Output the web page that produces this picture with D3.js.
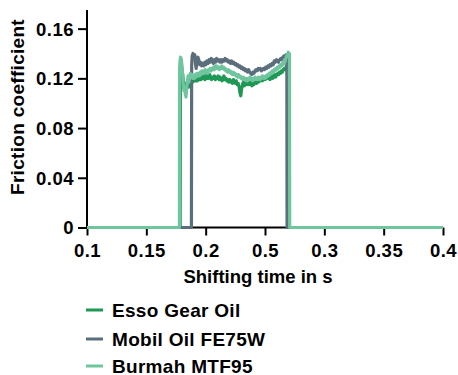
<!DOCTYPE html>
<html><head><meta charset="utf-8">
<script src="https://cdn.jsdelivr.net/npm/d3@7"></script>
<style>
html,body{margin:0;padding:0;background:#fff;}
svg{display:block;font-family:"Liberation Sans",Arial,Helvetica,sans-serif;font-weight:bold;}
</style></head><body>
<svg id="c" width="458" height="375"></svg>
<script>
const seriesNames = ["Esso Gear Oil", "Mobil Oil FE75W", "Burmah MTF95"];
const seriesColors = ["#1e9955", "#5b6e7c", "#6fc59e"];
const xTickValues = [0.1, 0.15, 0.2, 0.25, 0.3, 0.35, 0.4];
const xTickLabels = ["0.1", "0.15", "0.2", "0.5", "0.3", "0.35", "0.4"];
const yTickValues = [0, 0.04, 0.08, 0.12, 0.16];
const yTickLabels = ["0", "0.04", "0.08", "0.12", "0.16"];

// [shifting time in s, friction coefficient]
const essoData = [[0.1,0],[0.1785,0],[0.1787,0.128],[0.1795,0.131],[0.1805,0.124],[0.1812,0.118],[0.1819,0.114],[0.1826,0.116],[0.1834,0.111],[0.1842,0.115],[0.185,0.118],[0.1858,0.113],[0.1866,0.116],[0.1874,0.119],[0.1882,0.121],[0.189,0.117],[0.1898,0.118],[0.1906,0.121],[0.1914,0.118],[0.1922,0.12],[0.193,0.118],[0.1938,0.122],[0.1946,0.119],[0.1954,0.121],[0.1962,0.119],[0.197,0.122],[0.1978,0.12],[0.1986,0.122],[0.1994,0.119],[0.2002,0.123],[0.201,0.12],[0.2018,0.122],[0.2026,0.12],[0.2034,0.123],[0.2042,0.121],[0.205,0.119],[0.2058,0.121],[0.2066,0.12],[0.2074,0.122],[0.2082,0.119],[0.209,0.121],[0.2098,0.12],[0.2106,0.122],[0.2114,0.119],[0.2122,0.121],[0.213,0.12],[0.2138,0.118],[0.2146,0.12],[0.2154,0.122],[0.2162,0.119],[0.217,0.12],[0.2178,0.118],[0.2186,0.119],[0.2194,0.117],[0.2202,0.119],[0.221,0.117],[0.2218,0.118],[0.2226,0.116],[0.2234,0.119],[0.2242,0.117],[0.225,0.116],[0.2258,0.118],[0.2266,0.115],[0.2274,0.116],[0.2282,0.113],[0.229,0.108],[0.2296,0.106],[0.2302,0.111],[0.231,0.115],[0.2318,0.117],[0.2326,0.114],[0.2334,0.116],[0.2342,0.118],[0.235,0.115],[0.2358,0.117],[0.2366,0.115],[0.2374,0.117],[0.2382,0.116],[0.239,0.114],[0.2398,0.116],[0.2406,0.115],[0.2414,0.117],[0.2422,0.118],[0.243,0.116],[0.2438,0.118],[0.2446,0.117],[0.2454,0.119],[0.2462,0.118],[0.247,0.12],[0.2478,0.118],[0.2486,0.119],[0.2494,0.121],[0.2502,0.119],[0.251,0.12],[0.2518,0.122],[0.2526,0.12],[0.2534,0.121],[0.2542,0.119],[0.255,0.121],[0.2558,0.122],[0.2566,0.12],[0.2574,0.122],[0.2582,0.123],[0.259,0.121],[0.2598,0.123],[0.2606,0.124],[0.2614,0.123],[0.2622,0.125],[0.263,0.124],[0.2638,0.126],[0.2646,0.125],[0.2654,0.127],[0.2662,0.128],[0.267,0.127],[0.2678,0.129],[0.2686,0.13],[0.2694,0.129],[0.27,0.131],[0.2704,0.131],[0.2706,0],[0.4,0]];

const mobilData = [[0.1,0],[0.188,0],[0.1882,0.13],[0.1886,0.138],[0.1893,0.14],[0.19,0.137],[0.1908,0.139],[0.1915,0.131],[0.192,0.128],[0.1927,0.133],[0.1935,0.137],[0.1942,0.135],[0.195,0.131],[0.1958,0.133],[0.1966,0.13],[0.1975,0.132],[0.1984,0.13],[0.1993,0.133],[0.2002,0.131],[0.2011,0.134],[0.202,0.132],[0.2029,0.135],[0.2038,0.133],[0.2047,0.136],[0.2056,0.134],[0.2065,0.132],[0.2074,0.135],[0.2083,0.133],[0.2092,0.136],[0.2101,0.134],[0.211,0.135],[0.2119,0.133],[0.2128,0.135],[0.2137,0.133],[0.2146,0.135],[0.2155,0.134],[0.2164,0.136],[0.2173,0.134],[0.2182,0.135],[0.2191,0.133],[0.22,0.134],[0.2209,0.132],[0.2218,0.134],[0.2227,0.132],[0.2236,0.133],[0.2245,0.131],[0.2254,0.132],[0.2263,0.13],[0.2272,0.131],[0.2281,0.129],[0.229,0.13],[0.2299,0.128],[0.2308,0.129],[0.2317,0.127],[0.2326,0.128],[0.2335,0.126],[0.2344,0.127],[0.2353,0.125],[0.2362,0.127],[0.2371,0.125],[0.238,0.124],[0.2389,0.123],[0.2398,0.125],[0.2407,0.124],[0.2416,0.126],[0.2425,0.127],[0.2434,0.126],[0.2443,0.128],[0.2452,0.127],[0.2461,0.128],[0.247,0.126],[0.2479,0.127],[0.2488,0.128],[0.2497,0.127],[0.2506,0.129],[0.2515,0.128],[0.2524,0.13],[0.2533,0.129],[0.2542,0.131],[0.2551,0.13],[0.256,0.132],[0.2569,0.131],[0.2578,0.134],[0.2587,0.133],[0.2596,0.135],[0.2605,0.134],[0.2614,0.133],[0.2623,0.135],[0.2632,0.136],[0.2641,0.135],[0.265,0.137],[0.2659,0.138],[0.2668,0.137],[0.2677,0.139],[0.2684,0.139],[0.2686,0],[0.4,0]];

const burmahData = [[0.1,0],[0.1779,0],[0.178,0.128],[0.1784,0.134],[0.1788,0.137],[0.1793,0.136],[0.18,0.131],[0.1806,0.124],[0.1811,0.116],[0.1817,0.11],[0.1823,0.113],[0.1829,0.107],[0.1834,0.105],[0.184,0.112],[0.1846,0.118],[0.1852,0.122],[0.1858,0.117],[0.1864,0.12],[0.187,0.124],[0.1877,0.121],[0.1884,0.123],[0.1891,0.12],[0.1898,0.122],[0.1905,0.12],[0.1912,0.123],[0.1919,0.121],[0.1926,0.124],[0.1933,0.122],[0.194,0.124],[0.1947,0.122],[0.1954,0.125],[0.1961,0.123],[0.1968,0.126],[0.1975,0.124],[0.1982,0.126],[0.1989,0.124],[0.1996,0.127],[0.2003,0.125],[0.201,0.126],[0.2017,0.124],[0.2024,0.127],[0.2031,0.126],[0.2038,0.128],[0.2045,0.126],[0.2052,0.128],[0.2059,0.127],[0.2066,0.129],[0.2073,0.127],[0.208,0.13],[0.2087,0.128],[0.2094,0.13],[0.2101,0.128],[0.2108,0.129],[0.2115,0.127],[0.2122,0.129],[0.2129,0.128],[0.2136,0.13],[0.2143,0.128],[0.215,0.129],[0.2157,0.127],[0.2164,0.128],[0.2171,0.126],[0.2178,0.127],[0.2185,0.125],[0.2192,0.127],[0.2199,0.125],[0.2206,0.126],[0.2213,0.124],[0.222,0.125],[0.2227,0.123],[0.2234,0.125],[0.2241,0.123],[0.2248,0.124],[0.2255,0.122],[0.2262,0.123],[0.2269,0.121],[0.2276,0.123],[0.2283,0.121],[0.229,0.122],[0.2297,0.12],[0.2304,0.121],[0.2311,0.119],[0.2318,0.121],[0.2325,0.119],[0.2332,0.12],[0.2339,0.118],[0.2346,0.12],[0.2353,0.118],[0.236,0.12],[0.2367,0.119],[0.2374,0.121],[0.2381,0.119],[0.2388,0.12],[0.2395,0.118],[0.2402,0.12],[0.2409,0.119],[0.2416,0.121],[0.2423,0.119],[0.243,0.12],[0.2437,0.119],[0.2444,0.121],[0.2451,0.12],[0.2458,0.119],[0.2465,0.121],[0.2472,0.12],[0.2479,0.122],[0.2486,0.12],[0.2493,0.121],[0.25,0.12],[0.2507,0.122],[0.2514,0.121],[0.2521,0.123],[0.2528,0.122],[0.2535,0.124],[0.2542,0.123],[0.2549,0.125],[0.2556,0.124],[0.2563,0.126],[0.257,0.125],[0.2577,0.127],[0.2584,0.126],[0.2591,0.128],[0.2598,0.127],[0.2605,0.129],[0.2612,0.128],[0.2619,0.13],[0.2626,0.129],[0.2633,0.131],[0.264,0.13],[0.2647,0.132],[0.2654,0.131],[0.2661,0.134],[0.2668,0.133],[0.2675,0.136],[0.2682,0.138],[0.2689,0.139],[0.2696,0.141],[0.2702,0.14],[0.2706,0.14],[0.2708,0],[0.4,0]];

const seriesData = [essoData, mobilData, burmahData];

const svg = d3.select("#c");
const x = d3.scaleLinear().domain([0.1, 0.4]).range([87, 443]);
const y = d3.scaleLinear().domain([0, 0.175]).range([227.5, 10]);

// axes
const xAxis = d3.axisBottom(x).tickValues(xTickValues).tickSize(8).tickPadding(6)
  .tickFormat((d, i) => xTickLabels[i]);
const gx = svg.append("g").attr("transform", "translate(0,227.5)").call(xAxis);
const yAxis = d3.axisLeft(y).tickValues(yTickValues).tickSize(9).tickPadding(4)
  .tickFormat((d, i) => yTickLabels[i]);
const gy = svg.append("g").attr("transform", "translate(87,0)").call(yAxis);
[gx, gy].forEach(g => {
  g.select(".domain").attr("stroke", "#000").attr("stroke-width", 2);
  g.selectAll(".tick line").attr("stroke", "#000").attr("stroke-width", 2);
  g.selectAll(".tick text").attr("fill", "#000").attr("font-size", 18.5)
    .attr("font-family", "'Liberation Sans', Arial, sans-serif").attr("font-weight", "bold")
    .style("letter-spacing", "0.5px");
});
gx.select(".domain").attr("d", "M87,0H443");
gy.select(".domain").attr("d", "M0,10V228.5");
gx.selectAll(".tick text").attr("dy", null).attr("y", 29.5);
gy.selectAll(".tick text").attr("dy", "0.35em");

// lines (Esso, Mobil, Burmah on top)
const line = d3.line().x(d => x(d[0])).y(d => y(d[1])).curve(d3.curveLinear);
seriesData.forEach((data, i) => {
  svg.append("path").datum(data).attr("d", line)
    .attr("fill", "none").attr("stroke", seriesColors[i]).attr("stroke-width", 3.2)
    .attr("stroke-linejoin", "round").attr("stroke-linecap", "butt");
});

// axis titles
svg.append("text").attr("x", 258).attr("y", 283).attr("text-anchor", "middle")
  .attr("font-size", 18.5).attr("fill", "#000").text("Shifting time in s");
svg.append("text").attr("transform", "translate(24,107) rotate(-90)").attr("text-anchor", "middle")
  .attr("font-size", 19).attr("fill", "#000").style("letter-spacing", "0.3px").text("Friction coefficient");

// legend
const legendY = [310, 339, 366];
seriesNames.forEach((name, i) => {
  svg.append("line").attr("x1", 86).attr("x2", 103).attr("y1", legendY[i]).attr("y2", legendY[i])
    .attr("stroke", seriesColors[i]).attr("stroke-width", 3);
  svg.append("text").attr("x", 112).attr("y", legendY[i] + 6.5).attr("font-size", 19)
    .attr("fill", "#000").style("letter-spacing", "0.3px").text(name);
});
</script>
</body></html>
